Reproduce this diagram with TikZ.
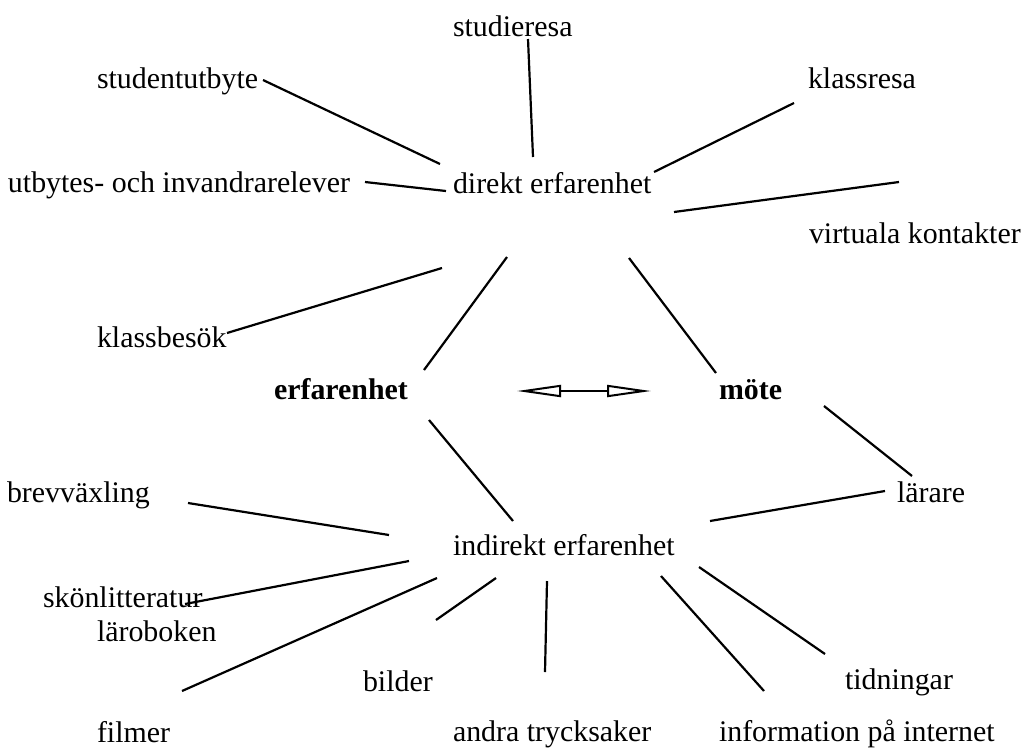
\documentclass[tikz,border=0pt]{standalone}
\usepackage{fontspec}
\setmainfont{Liberation Serif}
\usetikzlibrary{arrows.meta}
\tikzset{
  lbl/.style={anchor=base west, inner sep=0pt, outer sep=0pt, font=\fontsize{29.9}{34}\selectfont},
  blbl/.style={lbl, font=\fontsize{29.9}{34}\selectfont\bfseries},
  conn/.style={line width=2.2pt, line cap=butt},
  dbl/.style={line width=2pt, {Triangle[open,length=44pt,width=12pt]}-{Triangle[open,length=44pt,width=12pt]}}
}
\begin{document}
\begin{tikzpicture}[x=1pt,y=-1pt]
\useasboundingbox[fill=white] (0,0) rectangle (1025,748);
% labels
\node[lbl] (studieresa) at (453,36) {studieresa};
\node[lbl] (studentutbyte) at (97,88) {studentutbyte};
\node[lbl] (klassresa) at (808,88) {klassresa};
\node[lbl] (utbytes) at (8,192) {utbytes- och invandrarelever};
\node[lbl] (direkt) at (453,193) {direkt erfarenhet};
\node[lbl] (virtuala) at (809,243) {virtuala kontakter};
\node[lbl] (klassbesok) at (97,347) {klassbesök};
\node[blbl] (erfarenhet) at (274,399) {erfarenhet};
\node[blbl] (mote) at (719,399) {möte};
\node[lbl] (brev) at (7,502) {brevväxling};
\node[lbl] (larare) at (897,502) {lärare};
\node[lbl] (indirekt) at (453,555) {indirekt erfarenhet};
\node[lbl] (skon) at (43,607) {skönlitteratur};
\node[lbl] (laro) at (97,641) {läroboken};
\node[lbl] (bilder) at (363,691) {bilder};
\node[lbl] (tidningar) at (845,689) {tidningar};
\node[lbl] (filmer) at (97,742) {filmer};
\node[lbl] (andra) at (453,741) {andra trycksaker};
\node[lbl] (info) at (719,741) {information på internet};
% connector end points
\coordinate (sr1) at (528,39);  \coordinate (sr2) at (533,157);
\coordinate (su1) at (263,80);  \coordinate (su2) at (440,164);
\coordinate (kr1) at (794,103); \coordinate (kr2) at (654,172);
\coordinate (ub1) at (365,182); \coordinate (ub2) at (446,191);
\coordinate (vk1) at (899,182); \coordinate (vk2) at (674,212);
\coordinate (kb1) at (227,333); \coordinate (kb2) at (442,268);
\coordinate (ed1) at (424,370); \coordinate (ed2) at (507,257);
\coordinate (md1) at (716,373); \coordinate (md2) at (629,258);
\coordinate (ei1) at (429,420); \coordinate (ei2) at (513,521);
\coordinate (ml1) at (824,406); \coordinate (ml2) at (912,476);
\coordinate (li1) at (885,491); \coordinate (li2) at (710,521);
\coordinate (bv1) at (188,503); \coordinate (bv2) at (389,535);
\coordinate (sk1) at (185,604); \coordinate (sk2) at (409,561);
\coordinate (fi1) at (182,691); \coordinate (fi2) at (437,578);
\coordinate (bi1) at (436,620); \coordinate (bi2) at (496,578);
\coordinate (an1) at (545,672); \coordinate (an2) at (547,581);
\coordinate (in1) at (764,691); \coordinate (in2) at (661,576);
\coordinate (ti1) at (825,654); \coordinate (ti2) at (699,567);
\coordinate (arrL) at (517,391); \coordinate (arrR) at (651,391);
% connectors
\draw[conn] (sr1) -- (sr2);
\draw[conn] (su1) -- (su2);
\draw[conn] (kr1) -- (kr2);
\draw[conn] (ub1) -- (ub2);
\draw[conn] (vk1) -- (vk2);
\draw[conn] (kb1) -- (kb2);
\draw[conn] (ed1) -- (ed2);
\draw[conn] (md1) -- (md2);
\draw[conn] (ei1) -- (ei2);
\draw[conn] (ml1) -- (ml2);
\draw[conn] (li1) -- (li2);
\draw[conn] (bv1) -- (bv2);
\draw[conn] (sk1) -- (sk2);
\draw[conn] (fi1) -- (fi2);
\draw[conn] (bi1) -- (bi2);
\draw[conn] (an1) -- (an2);
\draw[conn] (in1) -- (in2);
\draw[conn] (ti1) -- (ti2);
\draw[dbl] (arrL) -- (arrR);
\end{tikzpicture}
\end{document}
